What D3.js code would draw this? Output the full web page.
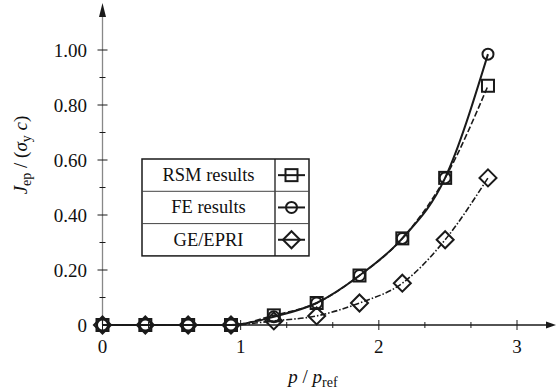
<!DOCTYPE html>
<html>
<head>
    <script src="https://cdn.jsdelivr.net/npm/d3@7"></script>
    <style>
        body { margin: 0; background: #fff; }
        #chart { width: 556px; height: 392px; display: block; }
        text { font-family: "Liberation Serif", "Times New Roman", serif; fill: #111; }
    </style>
</head>
<body>

<svg id="chart" width="556" height="392"></svg>

<script>
    // values
    const pRatio = [0, 0.31, 0.62, 0.93, 1.24, 1.55, 1.86, 2.17, 2.48, 2.79];
    const rsmVals = [0, 0, 0, 0, 0.035, 0.08, 0.18, 0.315, 0.535, 0.87];
    const feVals  = [0, 0, 0, 0, 0.03, 0.08, 0.18, 0.315, 0.535, 0.985];
    const geVals  = [0, 0, 0, 0, 0.015, 0.033, 0.08, 0.152, 0.31, 0.535];
    const xTicks = [0, 1, 2, 3];
    const yTicks = [0, 0.2, 0.4, 0.6, 0.8, 1.0];
    const yTickLabels = ["0", "0.20", "0.40", "0.60", "0.80", "1.00"];
    const legendNames = ["RSM results", "FE results", "GE/EPRI"];

    const svg = d3.select("#chart");
    const x = d3.scaleLinear().domain([0, 3]).range([102.5, 517]);
    const y = d3.scaleLinear().domain([0, 1]).range([325, 50]);
    const ink = "#1a1a1a";

    // y axis (grey line, black ticks, arrow on top)
    svg.append("line")
        .attr("x1", x(0)).attr("x2", x(0))
        .attr("y1", y(0)).attr("y2", 14)
        .attr("stroke", "#888").attr("stroke-width", 1.3);
    svg.append("path")
        .attr("d", `M${x(0)},3 L${x(0) - 3.5},17 L${x(0) + 3.5},17 Z`)
        .attr("fill", ink);
    const yMinor = d3.range(0.1, 1.01, 0.2);
    svg.append("g").selectAll("line.minor")
        .data(yMinor).join("line")
        .attr("x1", x(0) - 3).attr("x2", x(0) + 3)
        .attr("y1", d => y(d)).attr("y2", d => y(d))
        .attr("stroke", ink).attr("stroke-width", 1);
    svg.append("g").selectAll("line.major")
        .data(yTicks.slice(1)).join("line")
        .attr("x1", x(0) - 5).attr("x2", x(0) + 5)
        .attr("y1", d => y(d)).attr("y2", d => y(d))
        .attr("stroke", ink).attr("stroke-width", 1);
    svg.append("g").selectAll("text")
        .data(yTicks).join("text")
        .attr("x", 87).attr("y", d => y(d) + 6.5)
        .attr("text-anchor", "end")
        .attr("font-size", 19)
        .text((d, i) => yTickLabels[i]);

    // x axis (black line, arrow on the right)
    svg.append("line")
        .attr("x1", x(0)).attr("x2", 548)
        .attr("y1", y(0)).attr("y2", y(0))
        .attr("stroke", ink).attr("stroke-width", 1.3);
    svg.append("path")
        .attr("d", `M556,${y(0)} L546,${y(0) - 3.5} L546,${y(0) + 3.5} Z`)
        .attr("fill", ink);
    const xMinor = d3.range(1, 10).filter(i => i % 3 !== 0).map(i => i / 3);
    svg.append("g").selectAll("line")
        .data(xMinor).join("line")
        .attr("x1", d => x(d)).attr("x2", d => x(d))
        .attr("y1", y(0) - 3).attr("y2", y(0) + 3)
        .attr("stroke", ink).attr("stroke-width", 1);
    svg.append("g").selectAll("line")
        .data(xTicks).join("line")
        .attr("x1", d => x(d)).attr("x2", d => x(d))
        .attr("y1", y(0) - 5).attr("y2", y(0) + 5)
        .attr("stroke", ink).attr("stroke-width", 1);
    svg.append("g").selectAll("text")
        .data(xTicks).join("text")
        .attr("x", d => x(d)).attr("y", 353)
        .attr("text-anchor", "middle")
        .attr("font-size", 19)
        .text(d => d);

    // axis titles
    const xt = svg.append("text")
        .attr("x", 313).attr("y", 383)
        .attr("text-anchor", "middle")
        .attr("font-size", 19);
    xt.append("tspan").attr("font-style", "italic").text("p");
    xt.append("tspan").text(" / ");
    xt.append("tspan").attr("font-style", "italic").text("p");
    xt.append("tspan").attr("font-size", 14).attr("dy", 4).text("ref");

    const yt = svg.append("text")
        .attr("transform", "translate(27,155) rotate(-90)")
        .attr("text-anchor", "middle")
        .attr("font-size", 19);
    yt.append("tspan").attr("font-style", "italic").text("J");
    yt.append("tspan").attr("font-size", 14).attr("dy", 4).text("ep");
    yt.append("tspan").attr("dy", -4).text(" / (");
    yt.append("tspan").attr("font-style", "italic").text("σ");
    yt.append("tspan").attr("font-size", 14).attr("dy", 4).text("y");
    yt.append("tspan").attr("dy", -4).attr("font-style", "italic").text(" c");
    yt.append("tspan").text(")");

    // series
    const series = [
        { name: legendNames[0], vals: rsmVals, dash: "6,2.5", width: 1.6, curve: d3.curveMonotoneX, marker: "square" },
        { name: legendNames[1], vals: feVals, dash: null, width: 2, curve: d3.curveMonotoneX, marker: "circle" },
        { name: legendNames[2], vals: geVals, dash: "6,2,1.5,2", width: 1.6, curve: d3.curveMonotoneX, marker: "diamond" }
    ];

    function drawMarker(g, type, cx, cy) {
        if (type === "square") {
            g.append("rect")
                .attr("x", cx - 6).attr("y", cy - 6)
                .attr("width", 12).attr("height", 12);
        } else if (type === "circle") {
            g.append("circle").attr("cx", cx).attr("cy", cy).attr("r", 5.5);
        } else {
            g.append("path")
                .attr("d", `M${cx},${cy - 8.5} L${cx + 8.5},${cy} L${cx},${cy + 8.5} L${cx - 8.5},${cy} Z`);
        }
    }

    series.forEach(s => {
        const pts = pRatio.map((p, i) => [x(p), y(s.vals[i])]);
        svg.append("path")
            .attr("d", d3.line().curve(s.curve)(pts))
            .attr("fill", "none")
            .attr("stroke", ink)
            .attr("stroke-width", s.width)
            .attr("stroke-dasharray", s.dash);
    });

    series.forEach(s => {
        const g = svg.append("g")
            .attr("fill", "none").attr("stroke", ink).attr("stroke-width", 2);
        pRatio.forEach((p, i) => drawMarker(g, s.marker, x(p), y(s.vals[i])));
    });

    // legend box
    const lg = svg.append("g");
    const lx0 = 142, lx1 = 275, lx2 = 309, ly0 = 159, rowH = 32.3;
    lg.append("rect")
        .attr("x", lx0).attr("y", ly0)
        .attr("width", lx2 - lx0).attr("height", rowH * 3)
        .attr("fill", "#fff").attr("stroke", ink).attr("stroke-width", 1.5);
    lg.append("line")
        .attr("x1", lx1).attr("x2", lx1)
        .attr("y1", ly0).attr("y2", ly0 + rowH * 3)
        .attr("stroke", ink).attr("stroke-width", 1.3);
    [1, 2].forEach(r => {
        lg.append("line")
            .attr("x1", lx0).attr("x2", lx2)
            .attr("y1", ly0 + rowH * r).attr("y2", ly0 + rowH * r)
            .attr("stroke", "#444").attr("stroke-width", 1);
    });
    series.forEach((s, r) => {
        const cy = ly0 + rowH * r + rowH / 2;
        lg.append("text")
            .attr("x", (lx0 + lx1) / 2).attr("y", cy + 6)
            .attr("text-anchor", "middle")
            .attr("font-size", 18.5)
            .text(s.name);
        lg.append("line")
            .attr("x1", lx1 + 3).attr("x2", lx2 - 4)
            .attr("y1", cy).attr("y2", cy)
            .attr("stroke", ink).attr("stroke-width", 2);
        const mg = lg.append("g")
            .attr("fill", "none").attr("stroke", ink).attr("stroke-width", 2);
        drawMarker(mg, s.marker, 291.5, cy);
    });
</script>
</body>
</html>
